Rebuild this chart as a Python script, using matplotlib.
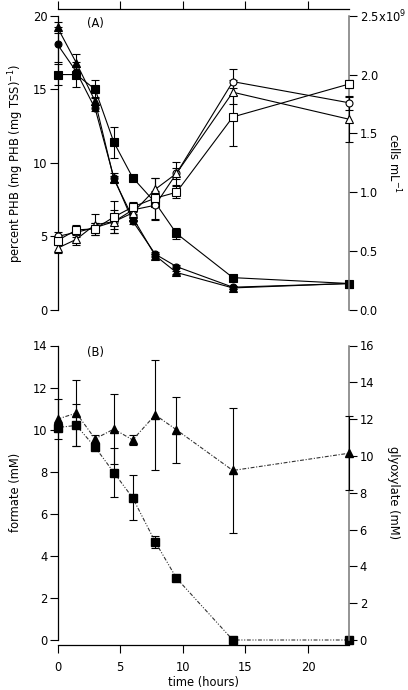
import matplotlib
matplotlib.use("Agg")
import matplotlib.pyplot as plt
from matplotlib.ticker import FixedLocator, FuncFormatter

plt.rcParams['font.family'] = ['DejaVu Sans']
plt.rcParams['font.size'] = 8

# ---------------- data ----------------
time_h = [0, 1.5, 3, 4.5, 6, 7.8, 9.5, 14, 23.3]

# panel A, left axis: percent PHB
phb_circle = [18.05, 16.2, 13.7, 9.0, 6.05, 3.8, 2.95, 1.55, 1.8]
phb_circle_err = [1.2, 0.3, 0.2, 0.3, 0.2, 0.15, 0.1, 0.1, 0.1]
phb_triangle = [19.2, 16.8, 14.2, 8.9, 6.3, 3.7, 2.55, 1.5, 1.8]
phb_triangle_err = [0.4, 0.6, 0.3, 0.2, 0.2, 0.1, 0.1, 0.1, 0.1]
phb_square = [16.0, 16.0, 15.0, 11.4, 9.0, 7.3, 5.2, 2.2, 1.8]
phb_square_err = [0.7, 0.85, 0.6, 1.05, 0.15, 0.2, 0.4, 0.1, 0.1]

# panel A, right axis: cells per mL (x1e9)
cells_circle = [0.625, 0.66, 0.70, 0.75, 0.85, 0.89, 1.16, 1.94, 1.76]
cells_circle_err = [0.04, 0.04, 0.04, 0.10, 0.04, 0.125, 0.10, 0.11, 0.06]
cells_triangle = [0.525, 0.60, 0.725, 0.75, 0.825, 1.025, 1.16, 1.85, 1.62]
cells_triangle_err = [0.04, 0.05, 0.09, 0.06, 0.04, 0.10, 0.05, 0.10, 0.19]
cells_square = [0.59, 0.68, 0.69, 0.79, 0.875, 0.95, 1.0, 1.64, 1.92]
cells_square_err = [0.04, 0.04, 0.05, 0.14, 0.045, 0.175, 0.05, 0.25, 0.03]

# panel B
formate = [10.1, 10.2, 9.17, 7.96, 6.76, 4.67, 2.94, 0, 0]
formate_err = [0.15, 1.0, 0.1, 1.15, 1.07, 0.28, 0.1, 0, 0]
glyoxylate = [12.0, 12.33, 10.93, 11.46, 10.87, 12.23, 11.42, 9.21, 10.15]
glyoxylate_err = [1.1, 1.77, 0.2, 1.88, 0.25, 2.97, 1.8, 3.4, 2.0]

x_ticks = [0, 5, 10, 15, 20]
phb_ticks = [0, 5, 10, 15, 20]
cells_ticks = [0.0, 0.5, 1.0, 1.5, 2.0, 2.5]
formate_ticks = [0, 2, 4, 6, 8, 10, 12, 14]
glyox_ticks = [0, 2, 4, 6, 8, 10, 12, 14, 16]

# ---------------- figure ----------------
fig = plt.figure(figsize=(4.08, 6.90), dpi=100)
W, H = 408, 690
x0, x1 = 57.5, 349.3
XMAX = 23.3
grey = '#777777'
tick_len = 5.5
lw_sp = 0.9
FS = 8.3
MS_SQ, MS_O, MS_TR = 5.3, 5.0, 5.3


def style_left(ax):
    ax.spines['left'].set_linewidth(lw_sp)
    ax.tick_params(axis='y', direction='out', length=tick_len, width=0.8, pad=1.5,
                   labelsize=FS)


def style_right(axr):
    for s in ['left', 'top', 'bottom']:
        axr.spines[s].set_visible(False)
    axr.spines['right'].set_color(grey)
    axr.spines['right'].set_linewidth(lw_sp + 0.2)
    axr.tick_params(axis='y', direction='out', length=tick_len, width=0.8, pad=2,
                    labelsize=FS, color='black')


def eb(ax, y, e, marker, ms, face, z):
    ax.errorbar(time_h, y, yerr=e, fmt='none', ecolor='black', elinewidth=0.8,
                capsize=3.0, capthick=0.8, zorder=z, clip_on=False)
    ax.plot(time_h, y, color='black', lw=0.8, marker=marker, ms=ms,
            mfc=face, mec='black', mew=0.8, zorder=z + 1, clip_on=False)


# ---- panel A ----
axA = fig.add_axes([x0 / W, 1 - 310 / H, (x1 - x0) / W, (310 - 15.7) / H])
axA.set_xlim(0, XMAX)
axA.set_ylim(0, 20)
axA.patch.set_visible(False)
axA.spines['bottom'].set_visible(False)
axA.spines['right'].set_visible(False)
axA.spines['top'].set_position(('outward', 5))
axA.spines['top'].set_linewidth(lw_sp)
axA.xaxis.set_ticks_position('top')
axA.xaxis.set_major_locator(FixedLocator(x_ticks))
axA.tick_params(axis='x', direction='out', length=tick_len, width=0.8, labeltop=False,
                labelbottom=False)
axA.yaxis.set_major_locator(FixedLocator(phb_ticks))
style_left(axA)
axA.set_ylabel('percent PHB (mg PHB (mg TSS)$^{-1}$)', fontsize=FS, va='center')
axA.yaxis.set_label_coords((16 - x0) / (x1 - x0), 0.5)

eb(axA, phb_square, phb_square_err, 's', MS_SQ, 'black', 3)
eb(axA, phb_circle, phb_circle_err, 'o', MS_O, 'black', 3)
eb(axA, phb_triangle, phb_triangle_err, '^', MS_TR, 'black', 3)
axA.text(3.0, 19.45, '(A)', ha='center', va='center', fontsize=FS)

axAr = axA.twinx()
axAr.set_ylim(0, 2.5)
axAr.set_xlim(0, XMAX)
style_right(axAr)
axAr.yaxis.set_major_locator(FixedLocator(cells_ticks))
axAr.yaxis.set_major_formatter(FuncFormatter(
    lambda v, p: '2.5x10$^{9}$' if abs(v - 2.5) < 1e-6 else f'{v:.1f}'))
axAr.set_ylabel('cells mL$^{-1}$', rotation=270, fontsize=FS, va='center')
axAr.yaxis.set_label_coords((394 - x0) / (x1 - x0), 0.5)
eb(axAr, cells_circle, cells_circle_err, 'o', MS_O, 'white', 3)
eb(axAr, cells_triangle, cells_triangle_err, '^', MS_TR, 'white', 3)
eb(axAr, cells_square, cells_square_err, 's', MS_SQ, 'white', 3)

# ---- panel B ----
axB = fig.add_axes([x0 / W, 1 - 640 / H, (x1 - x0) / W, (640 - 345.5) / H])
axB.set_xlim(0, XMAX)
axB.set_ylim(0, 14)
axB.patch.set_visible(False)
axB.spines['top'].set_visible(False)
axB.spines['right'].set_visible(False)
axB.spines['bottom'].set_position(('outward', 3.8))
axB.spines['bottom'].set_linewidth(lw_sp)
axB.xaxis.set_major_locator(FixedLocator(x_ticks))
axB.tick_params(axis='x', direction='out', length=tick_len, width=0.8, pad=6,
                labelsize=FS)
axB.yaxis.set_major_locator(FixedLocator(formate_ticks))
style_left(axB)
axB.set_xlabel('time (hours)', fontsize=FS, labelpad=1)
axB.set_ylabel('formate (mM)', fontsize=FS, va='center')
axB.yaxis.set_label_coords((16 - x0) / (x1 - x0), 0.5)

axB.errorbar(time_h, formate, yerr=formate_err, fmt='none', ecolor='black',
             elinewidth=0.8, capsize=3.0, capthick=0.8, zorder=3, clip_on=False)
axB.plot(time_h, formate, color='#333333', lw=0.8,
         dashes=(3.5, 1.5, 1, 1.5, 1, 1.5), marker='s', ms=MS_SQ,
         mfc='black', mec='black', zorder=4, clip_on=False)
axB.text(3.0, 13.65, '(B)', ha='center', va='center', fontsize=FS)

axBr = axB.twinx()
axBr.set_ylim(0, 16)
axBr.set_xlim(0, XMAX)
style_right(axBr)
axBr.yaxis.set_major_locator(FixedLocator(glyox_ticks))
axBr.set_ylabel('glyoxylate (mM)', rotation=270, fontsize=FS, va='center')
axBr.yaxis.set_label_coords((394 - x0) / (x1 - x0), 0.5)
axBr.errorbar(time_h, glyoxylate, yerr=glyoxylate_err, fmt='none', ecolor='black',
              elinewidth=0.8, capsize=3.0, capthick=0.8, zorder=3, clip_on=False)
axBr.plot(time_h, glyoxylate, color='#333333', lw=0.8,
          dashes=(3.5, 1.5, 1, 1.5), marker='^', ms=MS_TR,
          mfc='black', mec='black', zorder=4, clip_on=False)

fig.savefig('out.png', dpi=100, facecolor='white')
